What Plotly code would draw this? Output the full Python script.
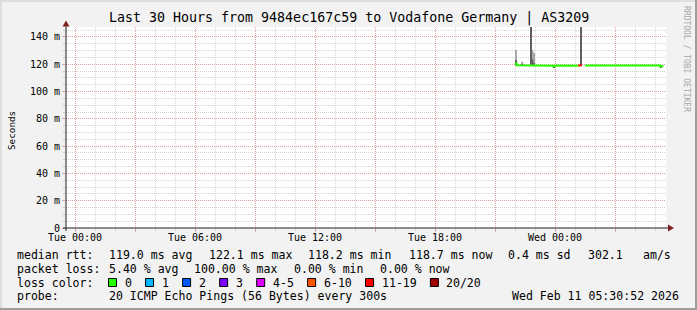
import plotly.graph_objects as go
from datetime import datetime, timedelta

# ---------------- data ----------------
title_text = "Last 30 Hours from 9484ec167c59 to Vodafone Germany | AS3209"
y_axis_title = "Seconds"
watermark = "RRDTOOL / TOBI OETIKER"

x_start = "2026-02-09 23:33:00"
x_end = "2026-02-11 05:33:00"
y_max = 147.3

y_tick_vals = [0, 20, 40, 60, 80, 100, 120, 140]
y_tick_text = ["0", "20 m", "40 m", "60 m", "80 m", "100 m", "120 m", "140 m"]

x_tick_vals = ["2026-02-10 00:00", "2026-02-10 03:00", "2026-02-10 06:00", "2026-02-10 09:00",
               "2026-02-10 12:00", "2026-02-10 15:00", "2026-02-10 18:00", "2026-02-10 21:00",
               "2026-02-11 00:00", "2026-02-11 03:00"]
x_tick_text = ["Tue 00:00", "", "Tue 06:00", "", "Tue 12:00", "", "Tue 18:00", "", "Wed 00:00", ""]

first_sample = "2026-02-10 22:00:00"
step_minutes = 5

# median RTT (ms) per 5-minute sample, None = 100 % loss
median_ms = [
    120.6, 119.3, 119.2, 119.1, 119.0, 119.1, 119.0, 119.0, 118.9, 119.2, 119.1, 119.0,  # 22:00
    119.0, 118.9, 119.0, 119.1, 119.0, 119.0, 118.9, 119.0, 119.1, 119.0, 118.9, 118.5,  # 23:00
    119.0, 119.1, 119.0, 118.9, 119.0, 119.0, 119.1, 119.0, 118.9, 119.0, 119.0, 119.1,  # 00:00
    119.0, 118.9, 119.0, 119.2, None, None, 119.1, 119.0, 119.0, 118.9, 119.0, 119.0,    # 01:00
    119.1, 119.0, 118.9, 119.0, 119.0, 119.1, 119.0, 119.0, 118.9, 119.0, 119.1, 119.0,  # 02:00
    119.0, 119.0, 118.9, 119.0, 119.1, 119.0, 119.0, 118.9, 119.0, 119.0, 119.1, 119.0,  # 03:00
    118.9, 119.0, 119.0, 119.1, 119.0, 118.9, 119.0, 119.0, 119.1, 119.0, 118.9, 119.0,  # 04:00
    119.0, 119.1, 119.0, 118.5, 118.7,                                                    # 05:00
]
# lost pings out of 20 per sample
loss_pings = [
    0, 0, 0, 0, 0, 0, 0, 0, 0, 0, 0, 0,
    0, 0, 0, 0, 0, 0, 0, 0, 0, 0, 0, 0,
    0, 0, 0, 0, 0, 0, 0, 0, 0, 0, 0, 0,
    0, 0, 14, 17, 20, 20, 0, 0, 0, 0, 0, 0,
    0, 0, 0, 0, 0, 0, 0, 0, 0, 0, 0, 0,
    0, 0, 0, 0, 0, 0, 0, 0, 0, 0, 0, 0,
    0, 0, 0, 0, 0, 0, 0, 0, 0, 0, 0, 0,
    0, 0, 0, 0, 0,
]

# smoke (ping spread) for samples where it is visible
smoke_times = ["2026-02-10 22:00", "2026-02-10 22:20", "2026-02-10 22:45", "2026-02-10 22:50",
               "2026-02-10 22:55", "2026-02-10 23:55", "2026-02-11 01:15", "2026-02-11 05:15"]
smoke_lo = [119.0, 119.1, 119.0, 119.0, 118.9, 117.6, 119.0, 117.8]
smoke_hi = [130.5, 121.8, 320.0, 130.5, 128.5, 119.0, 320.0, 119.0]
smoke_core_lo = [119.0, 119.1, 119.0, 119.0, 118.9, 117.6, 119.0, 117.8]
smoke_core_hi = [123.2, 119.6, 320.0, 123.5, 121.0, 119.0, 320.0, 119.0]

loss_labels = ["0", "1", "2", "3", "4-5", "6-10", "11-19", "20/20"]
loss_ranges = [(0, 0), (1, 1), (2, 2), (3, 3), (4, 5), (6, 10), (11, 19), (20, 20)]
loss_colors = ["#26ff00", "#00b8ff", "#0059ff", "#7e00ff", "#dd00ff", "#ff5500", "#ff0000", "#a10000"]

rtt_label = "median rtt:"
rtt_stats = ["119.0 ms avg", "122.1 ms max", "118.2 ms min", "118.7 ms now", "0.4 ms sd", "302.1", "am/s"]
loss_label = "packet loss:"
loss_stats = ["5.40 % avg", "100.00 % max", "0.00 % min", "0.00 % now"]
color_label = "loss color:"
probe_label = "probe:"
probe_text = "20 ICMP Echo Pings (56 Bytes) every 300s"
stamp_text = "Wed Feb 11 05:30:52 2026"

# ---------------- layout constants (pixels) ----------------
W, H = 697, 310
PL, PR, PT, PB = 66, 666, 27, 228
MONO = "DejaVu Sans Mono"
major_col = "rgba(222,79,79,0.38)"
minor_col = "rgba(143,143,143,0.38)"
rtt_x = [107.6, 208, 306.7, 407.6, 506.7, 586.7, 642.2]
loss_x = [107.6, 193.4, 293.3, 378.7]
row_y = [255, 268.5, 282.5, 296]


def px(x):
    return (x - PL) / (PR - PL)


def py(y):
    return (PB - y) / (PB - PT)


t0 = datetime.fromisoformat(first_sample)
step = timedelta(minutes=step_minutes)

fig = go.Figure()

# smoke
st = [datetime.fromisoformat(s) + step / 2 for s in smoke_times]
fig.add_trace(go.Bar(x=st, base=smoke_lo, y=[h - l for h, l in zip(smoke_hi, smoke_lo)],
                     width=step.total_seconds() * 1000, marker=dict(color="#a8a8a8", line=dict(width=0)),
                     hoverinfo="skip"))
fig.add_trace(go.Bar(x=st, base=smoke_core_lo, y=[h - l for h, l in zip(smoke_core_hi, smoke_core_lo)],
                     width=step.total_seconds() * 1000, marker=dict(color="#606060", line=dict(width=0)),
                     hoverinfo="skip"))

# median line coloured by loss
for (lo, hi), col in zip(loss_ranges, loss_colors):
    xs, ys = [], []
    prev_in = False
    for i, (m, l) in enumerate(zip(median_ms, loss_pings)):
        inside = m is not None and lo <= l <= hi
        if inside:
            t = t0 + i * step
            xs += [t, t + step]
            ys += [m, m]
        elif prev_in:
            xs.append(None)
            ys.append(None)
        prev_in = inside
    if xs:
        fig.add_trace(go.Scatter(x=xs, y=ys, mode="lines", line=dict(color=col, width=2),
                                 connectgaps=False, hoverinfo="skip"))

shapes = []
ann = []

# axes lines & arrows
axis_col = "#1f1f1f"
arrow_col = "#801f1f"
shapes.append(dict(type="line", xref="paper", yref="paper", x0=px(63), x1=px(669), y0=0, y1=0,
                   line=dict(color=axis_col, width=1)))
shapes.append(dict(type="line", xref="paper", yref="paper", x0=0, x1=0, y0=py(231), y1=py(25),
                   line=dict(color=axis_col, width=1)))
shapes.append(dict(type="path", xref="paper", yref="paper",
                   path=f"M {px(674)},{py(228)} L {px(668)},{py(224.5)} L {px(668)},{py(231.5)} Z",
                   fillcolor=arrow_col, line=dict(width=0)))
shapes.append(dict(type="path", xref="paper", yref="paper",
                   path=f"M {px(66)},{py(20.5)} L {px(62.5)},{py(26.5)} L {px(69.5)},{py(26.5)} Z",
                   fillcolor=arrow_col, line=dict(width=0)))

# frame shading
shapes.append(dict(type="rect", xref="paper", yref="paper", x0=px(0), x1=px(W), y0=py(0), y1=py(2),
                   fillcolor="#dedede", line=dict(width=0)))
shapes.append(dict(type="rect", xref="paper", yref="paper", x0=px(0), x1=px(2), y0=py(0), y1=py(H),
                   fillcolor="#dedede", line=dict(width=0)))
shapes.append(dict(type="rect", xref="paper", yref="paper", x0=px(W - 2), x1=px(W), y0=py(0), y1=py(H),
                   fillcolor="#9e9e9e", line=dict(width=0)))
shapes.append(dict(type="rect", xref="paper", yref="paper", x0=px(0), x1=px(W), y0=py(H - 2), y1=py(H),
                   fillcolor="#9e9e9e", line=dict(width=0)))


def text(x, y, s, size=11.55, anchor="left", color="#000000", angle=0, family=MONO):
    ann.append(dict(xref="paper", yref="paper", x=px(x), y=py(y), text=s.replace(" ", "&nbsp;"),
                    showarrow=False, xanchor=anchor, yanchor="middle", textangle=angle, borderpad=0,
                    font=dict(family=family, size=size, color=color)))


text(348.5, 18, title_text, size=13.3, anchor="center")
text(11, 131, y_axis_title, size=9.3, anchor="center", angle=-90)
text(687, 59, watermark, size=8, anchor="center", color="#a8a8a8", angle=90)

text(16, row_y[0], rtt_label)
for s, x in zip(rtt_stats, rtt_x):
    text(x, row_y[0], s)
text(16, row_y[1], loss_label)
for s, x in zip(loss_stats, loss_x):
    text(x, row_y[1], s)
text(16, row_y[2], color_label)
sx = 108
for lab, col in zip(loss_labels, loss_colors):
    shapes.append(dict(type="rect", xref="paper", yref="paper", x0=px(sx + 0.5), x1=px(sx + 8.5),
                       y0=py(row_y[2] - 4), y1=py(row_y[2] + 4), fillcolor=col,
                       line=dict(color="#000000", width=1)))
    text(sx + 15.6, row_y[2], lab)
    sx += 15.6 + 6.95 * len(lab) + 14.5
text(16, row_y[3], probe_label)
text(107.6, row_y[3], probe_text)
text(679.5, row_y[3], stamp_text, anchor="right")

fig.update_layout(
    width=W, height=H,
    margin=dict(l=PL, r=W - PR, t=PT, b=H - PB, pad=0),
    paper_bgcolor="#f2f2f2", plot_bgcolor="#ffffff",
    showlegend=False, barmode="overlay",
    font=dict(family=MONO, size=10, color="#000000"),
    shapes=shapes, annotations=ann,
    xaxis=dict(type="date", range=[x_start, x_end], tickmode="array",
               tickvals=x_tick_vals, ticktext=x_tick_text,
               showgrid=True, gridcolor=major_col, griddash="1px,1px", gridwidth=1,
               ticks="outside", ticklen=3, tickcolor=major_col, zeroline=False, showline=False,
               ticklabelstandoff=-3,
               tickfont=dict(family=MONO, size=10, color="#000000"),
               minor=dict(dtick=3600000, tick0="2026-02-10 00:00", showgrid=True, gridcolor=minor_col,
                          griddash="1px,1px", ticks="outside", ticklen=2, tickcolor=minor_col),
               fixedrange=True),
    yaxis=dict(range=[0, y_max], tickmode="array", tickvals=y_tick_vals, ticktext=y_tick_text,
               showgrid=True, gridcolor=major_col, griddash="1px,1px", gridwidth=1,
               ticks="outside", ticklen=3, tickcolor=major_col, zeroline=False, showline=False,
               tickfont=dict(family=MONO, size=10, color="#000000"),
               minor=dict(dtick=5, tick0=0, showgrid=True, gridcolor=minor_col,
                          griddash="1px,1px", ticks="outside", ticklen=2, tickcolor=minor_col),
               fixedrange=True),
)

fig.write_html("out.html", config={"displayModeBar": False})
